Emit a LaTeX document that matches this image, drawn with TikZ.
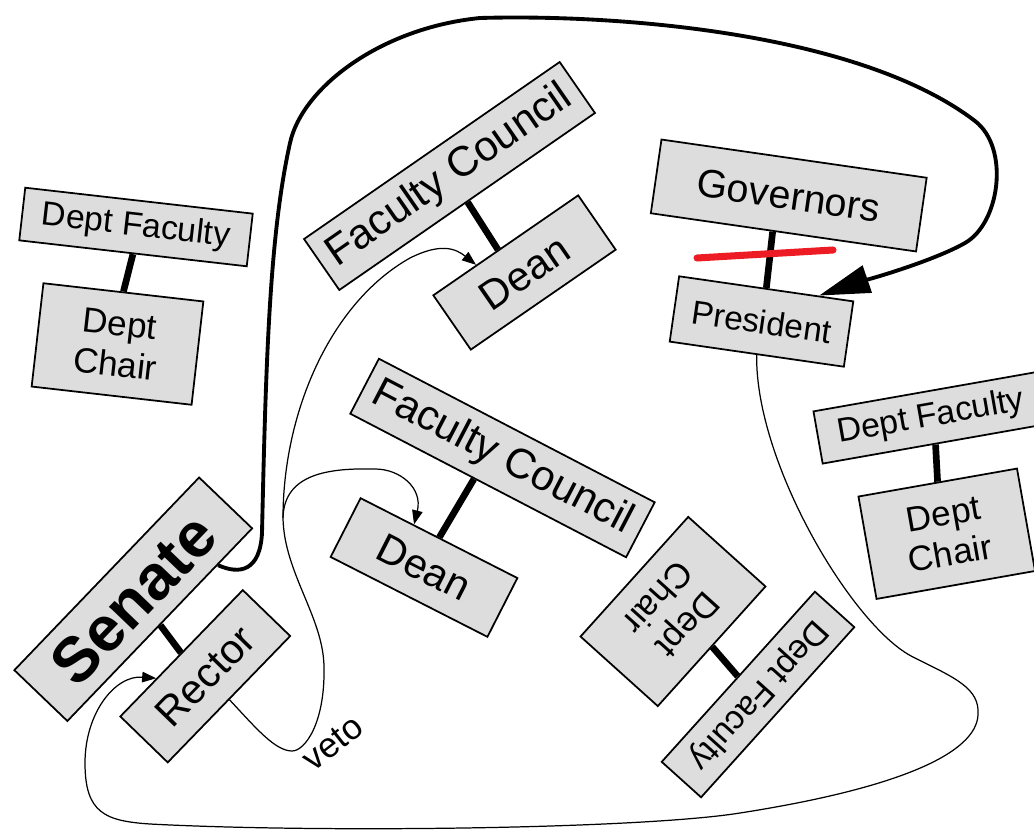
\documentclass[tikz,border=0pt]{standalone}
\usepackage{fontspec}
\setmainfont{Liberation Sans}
\usetikzlibrary{calc,arrows.meta}
\definecolor{boxgray}{RGB}{221,221,221}
\definecolor{strikered}{RGB}{237,28,36}
\tikzset{
  box/.style={draw,line width=1pt,fill=boxgray,inner sep=0pt,align=center},
  council/.style={box,minimum width=6.22cm,minimum height=1.24cm,font=\fontsize{24}{28}\selectfont},
  office/.style={box,minimum width=3.52cm,minimum height=1.32cm,font=\fontsize{23.5}{28}\selectfont},
  faculty/.style={box,minimum width=4.58cm,minimum height=1.06cm,font=\fontsize{19.2}{22}\selectfont},
  chair/.style={box,minimum width=3.22cm,minimum height=2.08cm,font=\fontsize{20}{23}\selectfont},
  link/.style={line width=3.8pt},
  power/.style={line width=2.2pt,-{Triangle[length=29pt,width=16pt]}},
  thin/.style={line width=0.7pt,-{Triangle[length=8pt,width=6pt]}},
}
\begin{document}
\begin{tikzpicture}[x=0.02cm,y=0.02cm]
\useasboundingbox (0,0) rectangle (1034,833);
% cac khoi
\node[faculty,rotate=-6.5] (DFa) at (136,606) {Dept Faculty};
\node[chair,rotate=-6.5] (DCa) at (117.5,489) {Dept\\Chair};
\node[council,rotate=34.7] (FC1) at (449.5,657) {Faculty Council};
\node[office,rotate=34.6] (D1) at (524.5,560.5) {Dean};
\node[box,minimum width=5.36cm,minimum height=1.49cm,font=\fontsize{22.5}{26}\selectfont,rotate=-8.2] (G) at (788.75,637.5) {Governors};
\node[office,font=\fontsize{19}{22}\selectfont,rotate=-8.2] (P) at (761.5,511.5) {President};
\node[council,rotate=-27.5] (FC2) at (502.5,375) {Faculty Council};
\node[office,rotate=-27] (D2) at (424,265.5) {Dean};
\node[box,minimum width=5.34cm,minimum height=1.47cm,font=\fontsize{36}{40}\selectfont\bfseries,rotate=46.2] (S) at (133.25,233.75) {Senate};
\node[office,rotate=45.9] (R) at (205.25,156.75) {Rector};
\node[chair,rotate=228] (DC3) at (673,221.5) {Dept\\Chair};
\node[faculty,rotate=228] (DF3) at (758,138.5) {Dept Faculty};
\node[faculty,rotate=10] (DFb) at (930.8,415.4) {Dept Faculty};
\node[chair,rotate=10] (DCb) at (946.75,299.25) {Dept\\Chair};
\node[font=\fontsize{20}{24}\selectfont,rotate=38] (veto) at (332.5,89.5) {veto};
% diem gan
\coordinate (d1top) at ($(D1.north west)!0.45!(D1.north east)$);
\coordinate (fc2bot) at ($(FC2.south west)!0.45!(FC2.south east)$);
\coordinate (gbot) at ($(G.south west)!0.46!(G.south east)$);
\coordinate (senout) at ($(S.south west)!0.81!(S.south east)$);
\coordinate (ptip) at ($(P.north west)!0.8!(P.north east)$);
\coordinate (rtip) at ($(R.north west)!0.3!(R.north east)$);
\coordinate (d1tip) at ($(D1.north west)!0.3!(D1.north east)$);
\coordinate (d2tip) at ($(D2.north west)!0.34!(D2.north east)$);
\foreach \a/\b in {DFa.south/DCa.north,FC1.south/d1top,fc2bot/D2.north,gbot/P.north,S.south/R.north,DC3.north/DF3.south,DFb.south/DCb.north}
  \draw[link] (\a)--(\b);
\draw[line width=4pt,line cap=round,strikered] (697,575)--(833,583);
% duong cong
\draw[power] (senout) .. controls (240,258) and (260,262) .. (262,300)
  .. controls (266,480) and (270,600) .. (290,690)
  .. controls (302,745) and (380,805) .. (480,815)
  .. controls (620,819) and (860,800) .. (975,712)
  .. controls (1010,685) and (1000,610) .. (965,590)
  .. controls (930,570) and (850,548) .. (ptip);
\draw[thin] (P.south) .. controls (755,370) and (853,206) .. (913,176)
  .. controls (955,155) and (980,145) .. (978,118)
  .. controls (976,80) and (900,45) .. (740,20)
  .. controls (640,4) and (320,0) .. (150,9)
  .. controls (105,12) and (85,20) .. (85,70)
  .. controls (85,120) and (115,158) .. (rtip);
\draw[thin] (R.south) .. controls (255,106) and (275,82) .. (292,82)
  .. controls (305,82) and (325,110) .. (324,165)
  .. controls (324,215) and (284,260) .. (283,315) coordinate (split)
  .. controls (283,420) and (330,530) .. (410,575)
  .. controls (440,590) and (455,585) .. (d1tip);
\draw[thin] (split) .. controls (284,360) and (330,365) .. (375,364)
  .. controls (400,364) and (423,345) .. (d2tip);
\end{tikzpicture}
\end{document}
